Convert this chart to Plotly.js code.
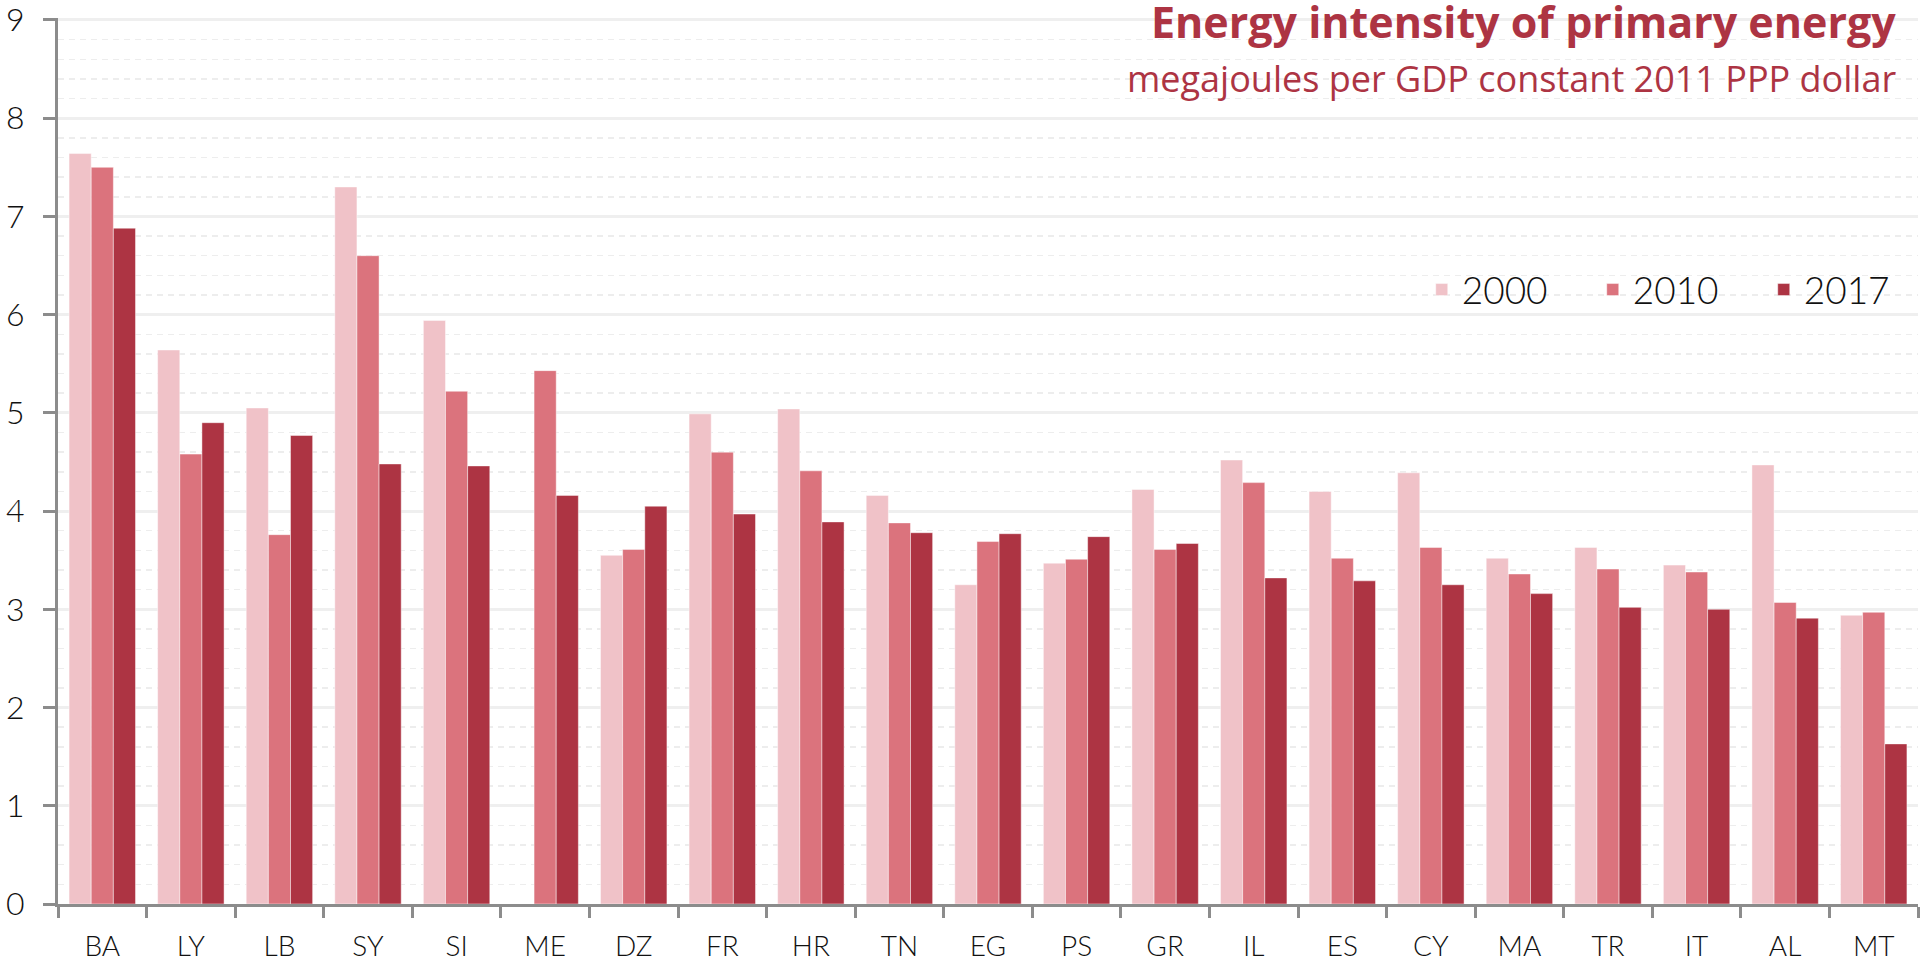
<!DOCTYPE html>
<html>
<head>
<meta charset="utf-8">
<script src="https://cdn.plot.ly/plotly-3.0.1.min.js"></script>
<style>
html,body{margin:0;padding:0;background:#fff;}
#chart{width:1921px;height:962px;}
</style>
</head>
<body>
<div id="chart"></div>
<script>
const categories = ["BA","LY","LB","SY","SI","ME","DZ","FR","HR","TN","EG","PS","GR","IL","ES","CY","MA","TR","IT","AL","MT"];
const seriesNames = ["2000","2010","2017"];
const values2000 = [7.64,5.64,5.05,7.30,5.94,null,3.55,4.99,5.04,4.16,3.25,3.47,4.22,4.52,4.20,4.39,3.52,3.63,3.45,4.47,2.94];
const values2010 = [7.50,4.58,3.76,6.60,5.22,5.43,3.61,4.60,4.41,3.88,3.69,3.51,3.61,4.29,3.52,3.63,3.36,3.41,3.38,3.07,2.97];
const values2017 = [6.88,4.90,4.77,4.48,4.46,4.16,4.05,3.97,3.89,3.78,3.77,3.74,3.67,3.32,3.29,3.25,3.16,3.02,3.00,2.91,1.63];
const titleText = "Energy intensity of primary energy";
const subtitleText = "megajoules per GDP constant 2011 PPP dollar";

const colors = ["#F0C2C8","#DB737D","#AD3443"];
const allValues = [values2000, values2010, values2017];

const traces = allValues.map((v,i)=>({
  type:"bar",
  name: seriesNames[i],
  x: categories,
  y: v,
  marker:{color:colors[i], line:{color:"rgba(255,255,255,0.45)", width:1}},
  hoverinfo:"x+y+name"
}));

const axisGrey = "#8C8C8C";
const lightFont = "Lato, 'Open Sans', sans-serif";
const titleFont = "'Open Sans', 'Noto Sans', sans-serif";

const layout = {
  width:1921, height:962,
  margin:{l:58, r:3, t:18, b:58, pad:0, autoexpand:false},
  paper_bgcolor:"#fff", plot_bgcolor:"#fff",
  barmode:"group", bargap:0.25, bargroupgap:0,
  showlegend:true,
  legend:{
    orientation:"h", x:1.009, xanchor:"right", y:0.693, yanchor:"middle",
    bgcolor:"rgba(0,0,0,0)", font:{family:lightFont, size:37, color:"#111", weight:300},
    entrywidth:126, entrywidthmode:"pixels", traceorder:"normal"
  },
  xaxis:{
    type:"category", showline:true, linecolor:axisGrey, linewidth:3,
    ticks:"outside", tickson:"boundaries", ticklen:11, tickwidth:3, tickcolor:axisGrey,
    showgrid:false, tickfont:{family:lightFont, size:28, color:"#111", weight:300},
    ticklabelstandoff:15, fixedrange:true
  },
  yaxis:{
    range:[0,9.02], tickmode:"linear", tick0:0, dtick:1, showline:true, linecolor:axisGrey, linewidth:3,
    ticks:"outside", ticklen:12, tickwidth:3, tickcolor:axisGrey, ticklabeloverflow:"allow",
    showgrid:true, gridcolor:"#EFEFEF", gridwidth:3, zeroline:false,
    minor:{dtick:0.2, showgrid:true, gridcolor:"#EDEDED", gridwidth:1.5, griddash:"6px,5px", ticks:""},
    tickfont:{family:lightFont, size:32, color:"#111", weight:300}, ticklabelstandoff:12, fixedrange:true
  },
  shapes:[
    {type:"rect", xref:"paper", yref:"paper", x0:0.560, x1:1.01, y0:0.896, y1:1.05, fillcolor:"#fff", line:{width:0}, layer:"between"},
    {type:"rect", xref:"paper", yref:"paper", x0:0.7038, x1:1.01, y0:0.6614, y1:0.7246, fillcolor:"#fff", line:{width:0}, layer:"between"}
  ],
  annotations:[
    {xref:"paper", yref:"paper", x:0.9892, xanchor:"right", y:0.9605, yanchor:"bottom",
     text:"<b>"+titleText+"</b>", showarrow:false,
     font:{family:titleFont, size:43, color:"#AD3443"}},
    {xref:"paper", yref:"paper", x:0.9892, xanchor:"right", y:0.9018, yanchor:"bottom",
     text:subtitleText, showarrow:false,
     font:{family:titleFont, size:36, color:"#AD3443"}}
  ]
};

Plotly.newPlot("chart", traces, layout, {displayModeBar:false, staticPlot:true});
</script>
</body>
</html>
